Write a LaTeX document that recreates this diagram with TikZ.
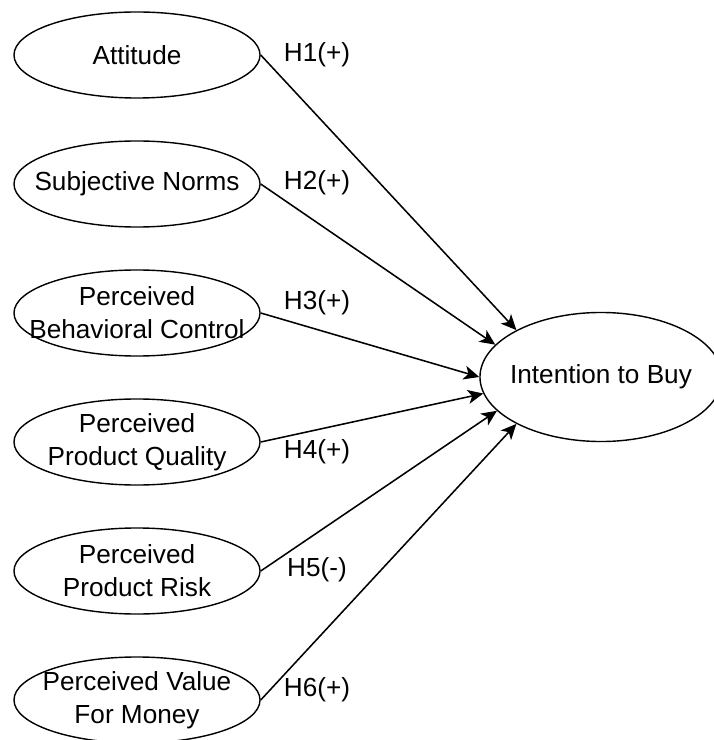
\documentclass[tikz,border=0pt]{standalone}
\usepackage{fontspec}
\setmainfont{Liberation Sans}
\usepackage{tikz}
\usetikzlibrary{arrows.meta,positioning,shapes.geometric}

\newcommand{\lbl}{\fontsize{18.6}{23.5}\selectfont}

\tikzset{
  oval/.style={draw, ellipse, line width=1pt, inner sep=0pt,
    minimum width=6.15cm, minimum height=2.15cm},
  bigoval/.style={oval, minimum width=6.05cm, minimum height=3.225cm},
  txt/.style={align=center, font=\lbl},
  hyp/.style={font=\lbl},
  link/.style={-{Stealth[length=11pt,width=10pt,inset=3pt]}, line width=1.1pt},
}

\begin{document}
\begin{tikzpicture}[x=0.025cm, y=-0.025cm]

  \useasboundingbox (0,0) rectangle (713,740);

  % Predictors - left column
  \node[oval, label={[txt]center:Attitude}] (att) at (137,55) {};
  \node[oval, label={[txt]center:Subjective Norms}] (sn) at (137,184) {};
  \node[oval, label={[txt]center:{Perceived\\Behavioral Control}}] (pbc) at (137,313) {};
  \node[oval, label={[txt]center:{Perceived\\Product Quality}}] (ppq) at (137,442) {};
  \node[oval, label={[txt]center:{Perceived\\Product Risk}}] (ppr) at (137,571) {};
  \node[oval, label={[txt]center:{Perceived Value\\For Money}}] (pvm) at (137,700) {};

  % Outcome
  \node[bigoval, label={[txt]center:Intention to Buy}] (itb) at (601,377) {};

  % Paths
  \draw[link] (att.east) -- (itb.151);
  \draw[link] (sn.east)  -- (itb.163);
  \draw[link] (pbc.east) -- (itb.180);
  \draw[link] (ppq.east) -- (itb.188);
  \draw[link] (ppr.east) -- (itb.198);
  \draw[link] (pvm.east) -- (itb.209);

  % Hypothesis labels
  \node[hyp] (h1) at (317,55)  {H1(+)};
  \node[hyp] (h2) at (317,183) {H2(+)};
  \node[hyp] (h3) at (317,303) {H3(+)};
  \node[hyp] (h4) at (317,452) {H4(+)};
  \node[hyp] (h5) at (317,570) {H5(-)};
  \node[hyp] (h6) at (317,690) {H6(+)};

\end{tikzpicture}
\end{document}
